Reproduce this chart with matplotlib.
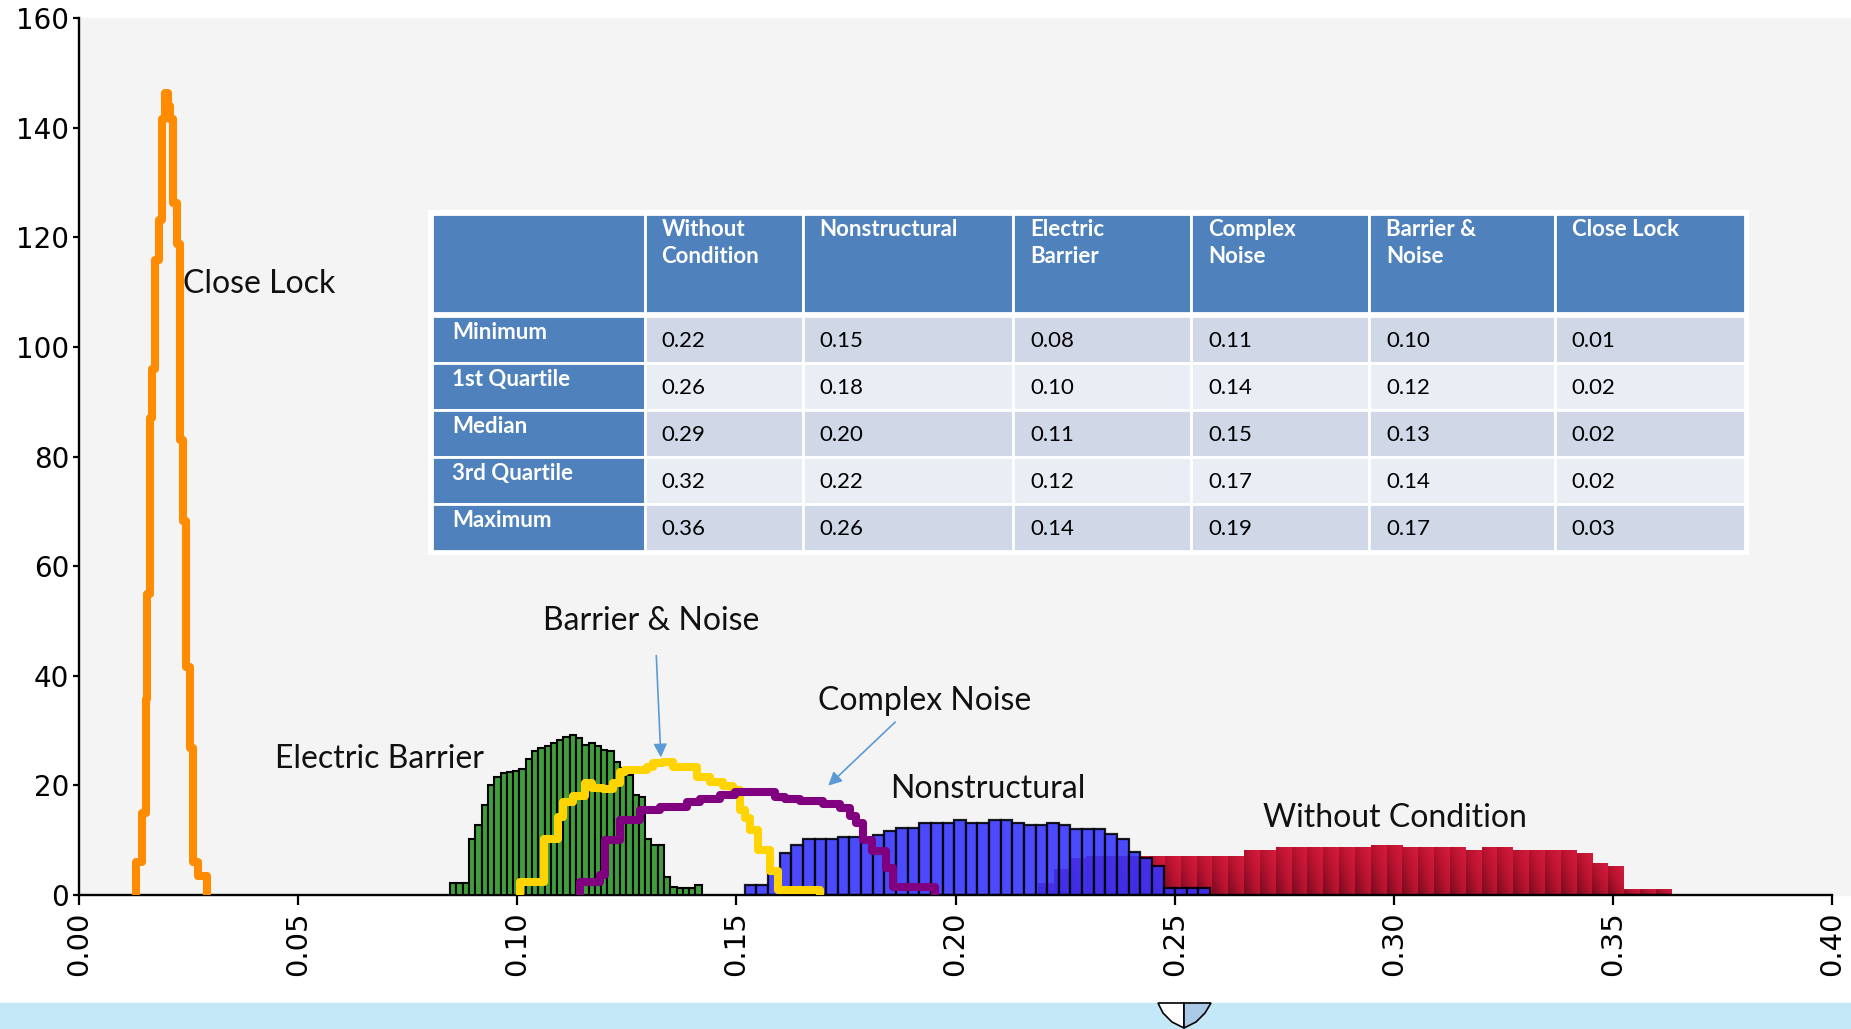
import numpy as np
import matplotlib
matplotlib.use('Agg')
import matplotlib.pyplot as plt
from matplotlib.patches import Rectangle, Polygon
from matplotlib.colors import LinearSegmentedColormap

# ---- values ----
# bar histograms: 40 equal bins between first and last edge
wc_range = (0.2189, 0.3634)   # Without Condition
wc_heights = [2.2, 4.8, 6.7, 7.1, 7.2, 7.2, 7.2, 7.2, 7.2, 7.2, 7.2, 7.2, 7.2,
              8.2, 8.2, 8.7, 8.7, 8.7, 8.7, 8.7, 8.7, 9.2, 9.2, 8.7, 8.7, 8.7, 8.7,
              8.2, 8.7, 8.7, 8.2, 8.2, 8.2, 8.2, 7.7, 5.8, 5.2, 1.1, 1.1, 1.1]

ns_range = (0.1519, 0.2581)   # Nonstructural
ns_heights = [1.8, 1.8, 4.6, 7.7, 9.1, 10.2, 10.2, 10.2, 10.6, 10.6,
              10.4, 10.9, 11.7, 12.2, 12.2, 13.2, 13.2, 13.2, 13.6, 13.2,
              13.2, 13.7, 13.7, 13.2, 12.8, 12.8, 13.2, 12.8, 12.0, 12.0,
              12.0, 11.1, 10.2, 7.8, 6.7, 5.3, 1.2, 1.2, 1.2, 1.2]

eb_range = (0.0847, 0.1421)   # Electric Barrier
eb_heights = [2.25, 2.25, 2.25, 10.3, 12.8, 16.4, 20.1, 21.5, 22.2, 22.5,
              22.7, 22.9, 24.8, 26.2, 26.8, 27.2, 27.7, 28.3, 28.9, 29.2,
              28.6, 27.4, 27.7, 27.1, 26.5, 26.2, 24.3, 23.1, 21.9, 18.2,
              17.8, 10.3, 9.1, 9.1, 3.3, 1.5, 1.2, 1.2, 1.2, 1.8]

# step outlines
cl_edges = [0.0130, 0.0143, 0.0152, 0.0156, 0.0162, 0.0167, 0.0173, 0.0183, 0.0189,
            0.0196, 0.0204, 0.0208, 0.0214, 0.0224, 0.0231, 0.0237, 0.0244, 0.0253,
            0.0261, 0.0272, 0.0291]
cl_heights = [6.0, 14.9, 35.7, 54.9, 87.1, 96.0, 115.8, 123.2, 141.5, 146.4,
              144.0, 141.5, 126.2, 118.7, 83.1, 68.3, 41.6, 26.8, 6.0, 3.5]

bn_edges = [0.1006, 0.1060, 0.1094, 0.1105, 0.1128, 0.1155, 0.1170, 0.1196, 0.1219,
            0.1235, 0.1246, 0.1295, 0.1310, 0.1333, 0.1356, 0.1410, 0.1440, 0.1470,
            0.1493, 0.1508, 0.1520, 0.1531, 0.1550, 0.1577, 0.1596, 0.1691]
bn_heights = [2.3, 10.3, 14.3, 17.0, 18.1, 20.4, 19.6, 19.4, 20.4, 22.5, 22.8, 23.4,
              24.0, 24.3, 23.4, 21.6, 20.7, 19.9, 19.2, 15.5, 14.0, 11.9, 8.2, 4.3, 1.0]

cn_edges = [0.1143, 0.1189, 0.1200, 0.1235, 0.1280, 0.1326, 0.1387, 0.1417, 0.1463,
            0.1497, 0.1588, 0.1611, 0.1645, 0.1698, 0.1737, 0.1759, 0.1773, 0.1789,
            0.1810, 0.1841, 0.1857, 0.1953]
cn_heights = [2.4, 3.6, 10.0, 13.6, 15.5, 16.1, 17.0, 17.5, 18.2, 18.8, 17.8,
              17.6, 17.2, 16.6, 15.8, 14.5, 13.2, 10.0, 8.0, 5.0, 1.5]

# summary table
tbl_rows = ['Minimum', '1st Quartile', 'Median', '3rd Quartile', 'Maximum']
tbl_cols = ['Without\nCondition', 'Nonstructural', 'Electric\nBarrier',
            'Complex\nNoise', 'Barrier &\nNoise', 'Close Lock']
tbl_without = [0.22, 0.26, 0.29, 0.32, 0.36]
tbl_nonstruct = [0.15, 0.18, 0.20, 0.22, 0.26]
tbl_electric = [0.08, 0.10, 0.11, 0.12, 0.14]
tbl_complex = [0.11, 0.14, 0.15, 0.17, 0.19]
tbl_barrier = [0.10, 0.12, 0.13, 0.14, 0.17]
tbl_close = [0.01, 0.02, 0.02, 0.02, 0.03]

W, H = 1851, 1029
def fx(px):
    return px / W
def fy(py):
    return 1 - py / H

fig = plt.figure(figsize=(W / 100, H / 100), dpi=100)
fig.patch.set_facecolor('white')

# grey plot area runs to the right edge of the picture
fig.add_artist(Rectangle((fx(79), fy(895)), 1 - fx(79), fy(18) - fy(895),
                         transform=fig.transFigure, color='#f4f4f4', zorder=-5))
ax = fig.add_axes([fx(79), fy(895), fx(1832) - fx(79), fy(18) - fy(895)])
ax.set_facecolor('#f4f4f4')


def bin_edges(rng, n):
    return np.linspace(rng[0], rng[1], n + 1)

# Without Condition: crimson bars with a per-bar shading
e = bin_edges(wc_range, len(wc_heights))
wbars = ax.bar(e[:-1], wc_heights, width=np.diff(e), align='edge',
               color='#b5142f', linewidth=0, zorder=1)
cmap = LinearSegmentedColormap.from_list('crim', ['#7c0c21', '#b8132f', '#d41a3e'])
gx, gy = np.meshgrid(np.linspace(0, 1, 8), np.linspace(0, 1, 8))
grad = 0.55 * gx + 0.45 * gy
for b in wbars:
    im = ax.imshow(grad, extent=[b.get_x(), b.get_x() + b.get_width(), 0, b.get_height()],
                   origin='lower', cmap=cmap, aspect='auto', interpolation='bilinear', zorder=1)
    im.set_clip_path(b)

e = bin_edges(ns_range, len(ns_heights))
ax.bar(e[:-1], ns_heights, width=np.diff(e), align='edge', color='#3333ff',
       alpha=0.88, edgecolor='black', linewidth=1.6, zorder=2)

e = bin_edges(eb_range, len(eb_heights))
ax.bar(e[:-1], eb_heights, width=np.diff(e), align='edge', color='#3f9f3a',
       edgecolor='black', linewidth=1.5, zorder=3)

ax.stairs(bn_heights, bn_edges, baseline=0, color='#ffd400', linewidth=5.8,
          joinstyle='round', zorder=4)
ax.stairs(cn_heights, cn_edges, baseline=0, color='#800080', linewidth=5.8,
          joinstyle='round', zorder=5)
ax.stairs(cl_heights, cl_edges, baseline=0, color='#ff8c00', linewidth=5.8,
          joinstyle='round', zorder=4)

ax.set_xlim(0, 0.40)
ax.set_ylim(0, 160)
ax.set_xticks(np.arange(0, 0.401, 0.05))
ax.set_xticklabels(['%.2f' % v for v in np.arange(0, 0.401, 0.05)], rotation=90,
                   fontsize=21, family='DejaVu Sans')
ax.set_yticks(range(0, 161, 20))
ax.set_yticklabels([str(v) for v in range(0, 161, 20)], fontsize=20, family='DejaVu Sans')
ax.tick_params(axis='x', length=7, width=1.6, pad=5)
ax.tick_params(axis='y', length=4, width=1.6, pad=3)
for s in ['top', 'right']:
    ax.spines[s].set_visible(False)
for s in ['left', 'bottom']:
    ax.spines[s].set_linewidth(1.7)

# series labels
lab = dict(fontsize=23, family='Lato', color='#111111', va='center', ha='left')
ax.text(0.0237, 111.4, 'Close Lock', **lab)
ax.text(0.1059, 50.0, 'Barrier & Noise', **lab)
ax.text(0.0447, 24.8, 'Electric Barrier', **lab)
ax.text(0.1686, 35.4, 'Complex Noise', **lab)
ax.text(0.1851, 19.4, 'Nonstructural', **lab)
ax.text(0.2702, 14.0, 'Without Condition', **lab)
arrow = dict(arrowstyle='-|>', color='#5b9bd5', lw=1.2, mutation_scale=20)
ax.annotate('', xy=(0.1328, 24.6), xytext=(0.1317, 44.2), arrowprops=arrow)
ax.annotate('', xy=(0.1705, 19.6), xytext=(0.1867, 31.9), arrowprops=arrow)

# summary table drawn on the figure
col_x = [432, 644.6, 802.7, 1012.9, 1191.1, 1369.4, 1554.7, 1745]
head_top, head_bot = 213.7, 312.8
row_top0, row_h = 316.4, 47.0
blue = '#4f81bd'
row_fill = ['#d0d8e8', '#e9edf4']
columns = [tbl_without, tbl_nonstruct, tbl_electric, tbl_complex, tbl_barrier, tbl_close]

def cell(x0, x1, y0, y1, c):
    fig.add_artist(Rectangle((fx(x0), fy(y1)), fx(x1) - fx(x0), fy(y0) - fy(y1),
                             transform=fig.transFigure, facecolor=c,
                             edgecolor='white', linewidth=2, zorder=10))

fig.add_artist(Rectangle((fx(428), fy(555)), fx(1749) - fx(428), fy(210) - fy(555),
                         transform=fig.transFigure, facecolor='white',
                         edgecolor='none', zorder=9))
for j in range(len(col_x) - 1):
    cell(col_x[j], col_x[j + 1], head_top, head_bot, blue)
    if j > 0:
        fig.text(fx(col_x[j] + 17), fy(head_top + 5), tbl_cols[j - 1], color='white',
                 fontsize=16, fontweight='bold', family='Lato', va='top', ha='left',
                 linespacing=1.4, zorder=11)
for i, rname in enumerate(tbl_rows):
    y0 = row_top0 + i * row_h
    cell(col_x[0], col_x[1], y0, y0 + row_h, blue)
    fig.text(fx(col_x[0] + 20), fy(y0 + 16), rname, color='white', fontsize=16,
             fontweight='bold', family='Lato', va='center', ha='left', zorder=11)
    for j, vals in enumerate(columns):
        cell(col_x[j + 1], col_x[j + 2], y0, y0 + row_h, row_fill[i % 2])
        fig.text(fx(col_x[j + 1] + 17), fy(y0 + 25), '%.2f' % vals[i], color='black',
                 fontsize=16, family='Lato', va='center', ha='left', zorder=11)

# light blue strip at the bottom of the screenshot
fig.add_artist(Rectangle((0, 0), 1, fy(1003), transform=fig.transFigure,
                         color='#c4e8f8', zorder=12))
fig.add_artist(Polygon([(fx(1158), fy(1003)), (fx(1163), fy(1013)), (fx(1172), fy(1022)),
                        (fx(1184), fy(1028)), (fx(1184), fy(1003))], closed=True,
                       transform=fig.transFigure, facecolor='white', edgecolor='black',
                       linewidth=1.2, zorder=13))
fig.add_artist(Polygon([(fx(1184), fy(1003)), (fx(1184), fy(1028)), (fx(1196), fy(1022)),
                        (fx(1205), fy(1013)), (fx(1211), fy(1003))], closed=True,
                       transform=fig.transFigure, facecolor='#a9c9e6', edgecolor='black',
                       linewidth=1.2, zorder=13))

fig.savefig('out.png', dpi=100)
